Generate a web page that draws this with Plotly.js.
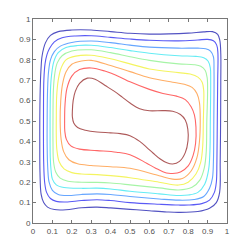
<!DOCTYPE html>
<html>
<head>
<meta charset="utf-8">
<script src="https://cdn.plot.ly/plotly-3.0.1.min.js"></script>
<style>html,body{margin:0;padding:0;background:#fff;}#chart{width:251px;height:251px;}</style>
</head>
<body>
<div id="chart"></div>
<script>
// Contour lines (outermost to innermost)
const level1X = [0.035,0.037,0.041,0.047,0.064,0.09,0.13,0.2,0.3,0.4,0.5,0.6,0.7,0.8,0.88,0.925,0.952,0.963,0.968,0.968,0.967,0.965,0.962,0.945,0.91,0.85,0.75,0.69,0.6,0.5,0.4,0.33,0.25,0.17,0.11,0.075,0.055,0.042,0.036,0.035];
const level1Y = [0.5,0.65,0.75,0.82,0.883,0.92,0.938,0.946,0.946,0.938,0.93,0.926,0.927,0.931,0.937,0.938,0.925,0.895,0.83,0.7,0.5,0.3,0.15,0.1,0.072,0.056,0.052,0.054,0.06,0.067,0.074,0.078,0.075,0.065,0.066,0.078,0.1,0.14,0.25,0.4];
const level2X = [0.054,0.056,0.062,0.072,0.085,0.11,0.15,0.22,0.3,0.4,0.5,0.6,0.75,0.85,0.9,0.93,0.947,0.953,0.952,0.95,0.948,0.945,0.935,0.91,0.87,0.8,0.75,0.65,0.5,0.4,0.33,0.25,0.17,0.12,0.09,0.07,0.06,0.055,0.054];
const level2Y = [0.5,0.7,0.78,0.825,0.855,0.888,0.908,0.917,0.918,0.91,0.902,0.896,0.893,0.897,0.9,0.893,0.872,0.835,0.7,0.5,0.3,0.2,0.15,0.112,0.095,0.088,0.088,0.092,0.1,0.11,0.114,0.11,0.103,0.106,0.12,0.15,0.2,0.3,0.4];
const level3X = [0.073,0.075,0.08,0.09,0.11,0.141,0.2,0.3,0.4,0.5,0.6,0.75,0.85,0.89,0.915,0.93,0.933,0.932,0.93,0.925,0.91,0.88,0.83,0.75,0.65,0.5,0.4,0.33,0.25,0.18,0.13,0.1,0.083,0.076,0.073];
const level3Y = [0.5,0.65,0.74,0.8,0.84,0.867,0.885,0.892,0.884,0.872,0.862,0.857,0.857,0.854,0.843,0.815,0.75,0.5,0.3,0.22,0.17,0.13,0.115,0.112,0.118,0.13,0.14,0.143,0.14,0.135,0.14,0.16,0.2,0.27,0.38];
const level4X = [0.088,0.09,0.095,0.107,0.13,0.17,0.23,0.3,0.4,0.5,0.6,0.75,0.84,0.88,0.903,0.914,0.916,0.914,0.912,0.905,0.885,0.85,0.8,0.75,0.65,0.5,0.4,0.33,0.25,0.16,0.12,0.1,0.093,0.089,0.088];
const level4Y = [0.5,0.65,0.72,0.79,0.835,0.86,0.87,0.871,0.86,0.845,0.832,0.82,0.817,0.81,0.793,0.76,0.7,0.5,0.35,0.26,0.19,0.15,0.137,0.135,0.143,0.156,0.167,0.171,0.17,0.174,0.187,0.215,0.26,0.32,0.4];
const level5X = [0.103,0.105,0.112,0.125,0.15,0.2,0.3,0.4,0.5,0.6,0.75,0.83,0.865,0.888,0.898,0.9,0.896,0.893,0.883,0.86,0.82,0.75,0.65,0.5,0.4,0.33,0.25,0.18,0.14,0.117,0.106,0.103];
const level5Y = [0.5,0.65,0.73,0.785,0.82,0.843,0.849,0.835,0.815,0.797,0.78,0.776,0.768,0.748,0.71,0.65,0.5,0.35,0.27,0.21,0.175,0.162,0.172,0.187,0.196,0.199,0.2,0.205,0.22,0.25,0.3,0.4];
const level6X = [0.12,0.122,0.13,0.145,0.17,0.22,0.3,0.4,0.5,0.6,0.75,0.81,0.85,0.872,0.88,0.88,0.878,0.875,0.865,0.84,0.8,0.75,0.65,0.5,0.4,0.33,0.25,0.2,0.16,0.135,0.123,0.12];
const level6Y = [0.5,0.62,0.7,0.76,0.8,0.818,0.822,0.805,0.78,0.755,0.737,0.73,0.715,0.69,0.65,0.58,0.5,0.38,0.3,0.24,0.2,0.186,0.2,0.222,0.232,0.237,0.24,0.247,0.265,0.3,0.36,0.43];
const level7X = [0.14,0.143,0.152,0.17,0.2,0.25,0.3,0.4,0.5,0.6,0.72,0.78,0.82,0.845,0.858,0.862,0.858,0.845,0.815,0.77,0.72,0.65,0.5,0.4,0.3,0.23,0.185,0.158,0.145,0.14];
const level7Y = [0.5,0.6,0.68,0.74,0.778,0.794,0.797,0.772,0.742,0.712,0.69,0.68,0.665,0.635,0.59,0.5,0.4,0.32,0.255,0.218,0.215,0.232,0.268,0.276,0.282,0.29,0.31,0.35,0.41,0.5];
const level8X = [0.163,0.165,0.175,0.2,0.24,0.3,0.37,0.45,0.5,0.6,0.67,0.74,0.785,0.815,0.832,0.84,0.838,0.825,0.8,0.76,0.72,0.688,0.63,0.586,0.5,0.43,0.33,0.24,0.195,0.172,0.164,0.163];
const level8Y = [0.5,0.58,0.66,0.72,0.752,0.76,0.745,0.715,0.692,0.655,0.635,0.622,0.605,0.57,0.53,0.47,0.39,0.33,0.28,0.25,0.243,0.245,0.27,0.293,0.335,0.347,0.355,0.362,0.378,0.41,0.45,0.5];
const level9X = [0.203,0.207,0.218,0.24,0.28,0.32,0.37,0.42,0.46,0.5,0.55,0.6,0.67,0.72,0.76,0.785,0.798,0.799,0.785,0.755,0.72,0.69,0.654,0.62,0.586,0.55,0.5,0.45,0.4,0.33,0.27,0.23,0.21,0.203,0.203];
const level9Y = [0.55,0.6,0.645,0.685,0.71,0.705,0.675,0.645,0.617,0.588,0.56,0.55,0.551,0.548,0.532,0.505,0.46,0.404,0.345,0.302,0.289,0.295,0.315,0.342,0.371,0.4,0.428,0.438,0.442,0.446,0.455,0.468,0.49,0.52,0.55];
const tickValues = [0,0.1,0.2,0.3,0.4,0.5,0.6,0.7,0.8,0.9,1];
const tickLabels = ['0','0.1','0.2','0.3','0.4','0.5','0.6','0.7','0.8','0.9','1'];

const levels = [
  [level1X, level1Y, '#5252c2'],
  [level2X, level2Y, '#5a5af5'],
  [level3X, level3Y, '#66a6ff'],
  [level4X, level4Y, '#66ecf4'],
  [level5X, level5Y, '#a6f4a6'],
  [level6X, level6Y, '#f4f460'],
  [level7X, level7Y, '#ffae66'],
  [level8X, level8Y, '#ff6666'],
  [level9X, level9Y, '#ae5a5a']
];

const traces = levels.map(([xs, ys, color]) => {
  const x = xs.slice(); const y = ys.slice();
  if (x[0] !== x[x.length-1] || y[0] !== y[y.length-1]) { x.push(x[0]); y.push(y[0]); }
  return {type:'scatter', mode:'lines', x, y,
    line:{color, width:1.1, shape:'spline', smoothing:1}, hoverinfo:'skip', showlegend:false};
});

const axisCommon = {
  range:[0,1], tickmode:'array', tickvals:tickValues, ticktext:tickLabels,
  ticks:'inside', ticklen:3, tickcolor:'#777', tickwidth:1,
  showline:true, linecolor:'#777', linewidth:1, mirror:'allticks',
  showgrid:false, zeroline:false, fixedrange:true,
  tickfont:{family:'Liberation Sans, Arial, sans-serif', size:8, color:'#505050'}
};

Plotly.newPlot('chart', traces, {
  width:251, height:251,
  margin:{l:33, r:24, t:19, b:28},
  paper_bgcolor:'#ffffff', plot_bgcolor:'#ffffff',
  xaxis:Object.assign({}, axisCommon),
  yaxis:Object.assign({}, axisCommon),
  showlegend:false
}, {staticPlot:true, displayModeBar:false});
</script>
</body>
</html>
